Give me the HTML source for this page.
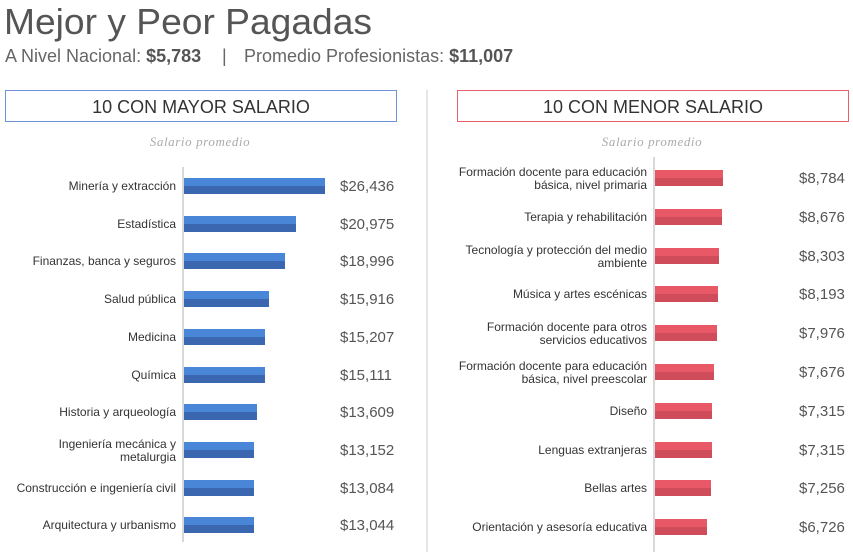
<!DOCTYPE html>
<html><head><meta charset="utf-8"><style>
body{margin:0;background:#fff}
svg{display:block}
</style></head><body>
<svg width="853" height="552" viewBox="0 0 853 552" xmlns="http://www.w3.org/2000/svg" font-family="Liberation Sans, sans-serif">
<text x="4" y="34" font-size="36" fill="#555" textLength="368" lengthAdjust="spacingAndGlyphs">Mejor y Peor Pagadas</text>
<text x="5" y="62" font-size="18" fill="#666">A Nivel Nacional: <tspan font-weight="bold" fill="#555">$5,783</tspan></text>
<text x="222" y="62" font-size="18" fill="#666">|</text>
<text x="244" y="62" font-size="18" fill="#666">Promedio Profesionistas: <tspan font-weight="bold" fill="#555">$11,007</tspan></text>
<line x1="427" y1="90" x2="427" y2="552" stroke="#ddd" stroke-width="1.5"/>
<rect x="5.5" y="90.5" width="391" height="31" fill="none" stroke="#6f95d6"/>
<text x="201" y="113" font-size="18" fill="#333" text-anchor="middle">10 CON MAYOR SALARIO</text>
<rect x="457.5" y="90.5" width="391" height="31" fill="none" stroke="#e8606c"/>
<text x="653" y="113" font-size="18" fill="#333" text-anchor="middle">10 CON MENOR SALARIO</text>
<text x="200" y="146" font-size="13" font-style="italic" fill="#aaa" text-anchor="middle" font-family="Liberation Serif, serif" letter-spacing="0.6">Salario promedio</text>
<text x="652" y="146" font-size="13" font-style="italic" fill="#aaa" text-anchor="middle" font-family="Liberation Serif, serif" letter-spacing="0.6">Salario promedio</text>
<line x1="183" y1="167" x2="183" y2="542" stroke="#ccc" stroke-width="1.5"/>
<line x1="654" y1="157" x2="654" y2="552" stroke="#ccc" stroke-width="1.5"/>

<g font-size="12" fill="#333" text-anchor="end">
<text x="176" y="190">Minería y extracción</text>
<text x="176" y="228">Estadística</text>
<text x="176" y="265">Finanzas, banca y seguros</text>
<text x="176" y="303">Salud pública</text>
<text x="176" y="341">Medicina</text>
<text x="176" y="379">Química</text>
<text x="176" y="416">Historia y arqueología</text>
<text x="176" y="448">Ingeniería mecánica y</text>
<text x="176" y="461">metalurgia</text>
<text x="176" y="492">Construcción e ingeniería civil</text>
<text x="176" y="529">Arquitectura y urbanismo</text>

<text x="647" y="176">Formación docente para educación</text>
<text x="647" y="189">básica, nivel primaria</text>
<text x="647" y="221">Terapia y rehabilitación</text>
<text x="647" y="254">Tecnología y protección del medio</text>
<text x="647" y="267">ambiente</text>
<text x="647" y="298">Música y artes escénicas</text>
<text x="647" y="331">Formación docente para otros</text>
<text x="647" y="344">servicios educativos</text>
<text x="647" y="370">Formación docente para educación</text>
<text x="647" y="383">básica, nivel preescolar</text>
<text x="647" y="415">Diseño</text>
<text x="647" y="454">Lenguas extranjeras</text>
<text x="647" y="492">Bellas artes</text>
<text x="647" y="531">Orientación y asesoría educativa</text>
</g>

<g font-size="15" fill="#555">
<text x="340" y="191">$26,436</text>
<text x="340" y="229">$20,975</text>
<text x="340" y="266">$18,996</text>
<text x="340" y="304">$15,916</text>
<text x="340" y="342">$15,207</text>
<text x="340" y="380">$15,111</text>
<text x="340" y="417">$13,609</text>
<text x="340" y="455">$13,152</text>
<text x="340" y="493">$13,084</text>
<text x="340" y="530">$13,044</text>
<text x="799" y="183">$8,784</text>
<text x="799" y="222">$8,676</text>
<text x="799" y="261">$8,303</text>
<text x="799" y="299">$8,193</text>
<text x="799" y="338">$7,976</text>
<text x="799" y="377">$7,676</text>
<text x="799" y="416">$7,315</text>
<text x="799" y="455">$7,315</text>
<text x="799" y="493">$7,256</text>
<text x="799" y="532">$6,726</text>
</g>

<g fill="#4a86d8">
<rect x="184" y="178" width="141" height="8"/>
<rect x="184" y="216" width="112" height="8"/>
<rect x="184" y="253" width="101" height="8"/>
<rect x="184" y="291" width="85" height="8"/>
<rect x="184" y="329" width="81" height="8"/>
<rect x="184" y="367" width="81" height="8"/>
<rect x="184" y="404" width="73" height="8"/>
<rect x="184" y="442" width="70" height="8"/>
<rect x="184" y="480" width="70" height="8"/>
<rect x="184" y="517" width="70" height="8"/>
</g>
<g fill="#3a67b0">
<rect x="184" y="186" width="141" height="8"/>
<rect x="184" y="224" width="112" height="8"/>
<rect x="184" y="261" width="101" height="8"/>
<rect x="184" y="299" width="85" height="8"/>
<rect x="184" y="337" width="81" height="8"/>
<rect x="184" y="375" width="81" height="8"/>
<rect x="184" y="412" width="73" height="8"/>
<rect x="184" y="450" width="70" height="8"/>
<rect x="184" y="488" width="70" height="8"/>
<rect x="184" y="525" width="70" height="8"/>
</g>
<g fill="#e95866">
<rect x="655" y="170" width="68" height="8"/>
<rect x="655" y="209" width="67" height="8"/>
<rect x="655" y="248" width="64" height="8"/>
<rect x="655" y="286" width="63" height="8"/>
<rect x="655" y="325" width="62" height="8"/>
<rect x="655" y="364" width="59" height="8"/>
<rect x="655" y="403" width="57" height="8"/>
<rect x="655" y="442" width="57" height="8"/>
<rect x="655" y="480" width="56" height="8"/>
<rect x="655" y="519" width="52" height="8"/>
</g>
<g fill="#cf4c5a">
<rect x="655" y="178" width="68" height="8"/>
<rect x="655" y="217" width="67" height="8"/>
<rect x="655" y="256" width="64" height="8"/>
<rect x="655" y="294" width="63" height="8"/>
<rect x="655" y="333" width="62" height="8"/>
<rect x="655" y="372" width="59" height="8"/>
<rect x="655" y="411" width="57" height="8"/>
<rect x="655" y="450" width="57" height="8"/>
<rect x="655" y="488" width="56" height="8"/>
<rect x="655" y="527" width="52" height="8"/>
</g>
</svg>
</body></html>
